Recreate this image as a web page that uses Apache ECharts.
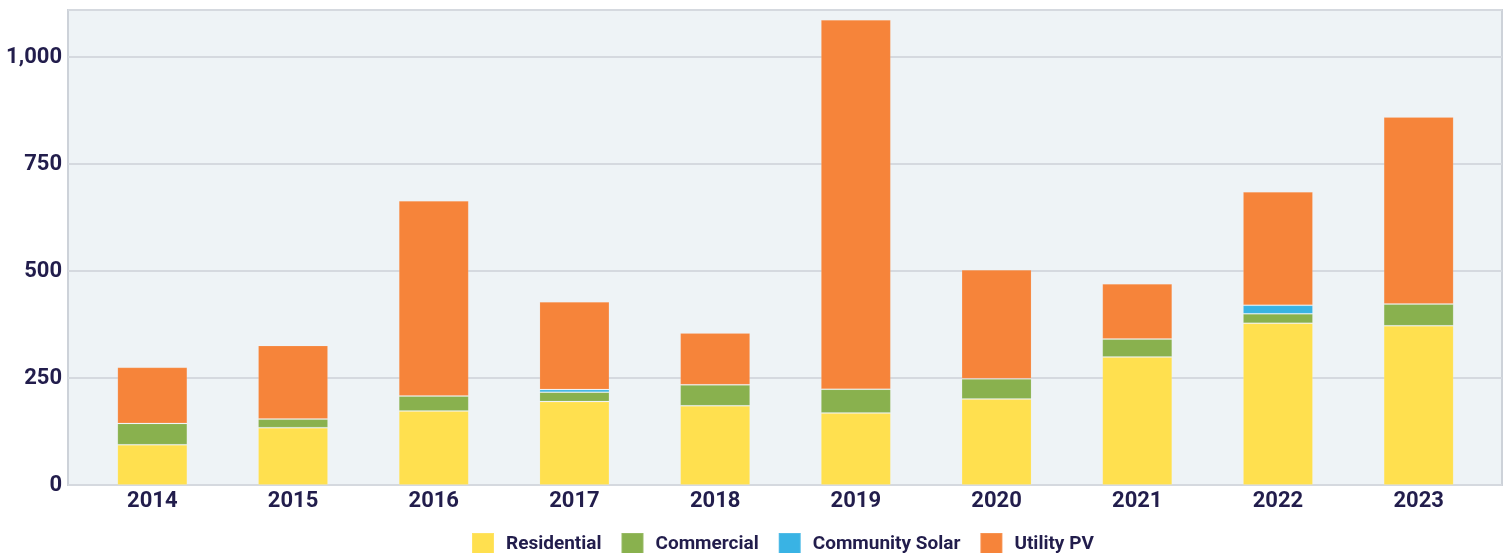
<!DOCTYPE html>
<html>
<head>
<meta charset="utf-8">
<script src="https://cdn.jsdelivr.net/npm/echarts@6/dist/echarts.min.js"></script>
<style>
  html, body { margin: 0; padding: 0; background: #fff; }
  #chart { width: 1511px; height: 553px; }
</style>
</head>
<body>
<div id="chart"></div>
<script>
// installed capacity by segment (MW)
var years = ['2014', '2015', '2016', '2017', '2018', '2019', '2020', '2021', '2022', '2023'];
var residential = [94, 134, 173, 195, 185, 168, 201, 299, 378, 372];
var commercial = [50, 20, 35, 22, 49, 56, 47, 42, 22, 51];
var communitySolar = [0, 0, 0, 6, 0, 0, 0, 0, 20, 0];
var utilityPV = [131, 172, 456, 205, 121, 863, 255, 129, 265, 437];
var yTicks = [0, 250, 500, 750, 1000];

var textColor = '#221d4c';
var chart = echarts.init(document.getElementById('chart'));

function bar(name, data, color) {
  return {
    name: name,
    type: 'bar',
    stack: 'total',
    xAxisIndex: 1,
    yAxisIndex: 1,
    barWidth: 70,
    data: data,
    itemStyle: {
      color: color,
      borderColor: 'rgba(255,255,255,0.12)',
      borderWidth: 1
    }
  };
}

chart.setOption({
  animation: false,
  textStyle: { fontFamily: 'Roboto' },
  grid: [
    {
      // background panel, full width
      left: 68, right: 9, top: 10, bottom: 68,
      show: true,
      backgroundColor: '#eef3f6',
      borderColor: '#cdd2d9',
      borderWidth: 2
    },
    {
      // bars sit inside a little padding
      left: 82, right: 22, top: 10, bottom: 68
    }
  ],
  legend: {
    bottom: -8,
    left: 466,
    itemWidth: 22,
    itemHeight: 22,
    itemGap: 19,
    icon: 'rect',
    textStyle: {
      color: textColor, fontSize: 19, fontWeight: 'bold', fontFamily: 'Roboto',
      padding: [0, 0, 0, 7]
    },
    data: ['Residential', 'Commercial', 'Community Solar', 'Utility PV']
  },
  xAxis: [
    { type: 'category', gridIndex: 0, data: years, show: false },
    {
      type: 'category',
      gridIndex: 1,
      data: years,
      axisLine: { show: false },
      axisTick: { show: false },
      axisLabel: { color: textColor, fontSize: 22, fontWeight: 'bold', margin: 5 }
    }
  ],
  yAxis: [
    {
      type: 'value',
      gridIndex: 0,
      min: 0,
      max: 1110,
      interval: 250,
      axisLine: { show: false },
      axisTick: { show: false },
      splitLine: { lineStyle: { color: '#d5d9df', width: 2 } },
      axisLabel: {
        color: textColor,
        fontSize: 22,
        fontWeight: 'bold',
        margin: 6,
        formatter: function (v) {
          return yTicks.indexOf(v) >= 0 ? v.toLocaleString('en-US') : '';
        }
      }
    },
    { type: 'value', gridIndex: 1, min: 0, max: 1110, show: false, splitLine: { show: false } }
  ],
  series: [
    bar('Residential', residential, '#ffe04f'),
    bar('Commercial', commercial, '#89b14e'),
    bar('Community Solar', communitySolar, '#39b3e4'),
    bar('Utility PV', utilityPV, '#f6843a')
  ]
});
</script>
</body>
</html>
